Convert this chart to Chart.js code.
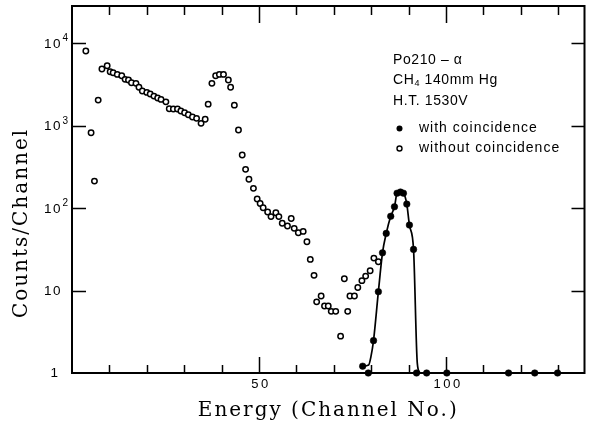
<!DOCTYPE html>
<html><head><meta charset="utf-8">
<script src="https://cdn.jsdelivr.net/npm/chart.js@4"></script>
<style>html,body{margin:0;padding:0;background:#fff;overflow:hidden}canvas{display:block}</style>
</head><body>
<canvas id="c" width="590" height="431"></canvas>
<script>
// Spectrum without coincidence (open circles)
const openChannels = [3.7,5.1,6.0,7.0,8.0,9.4,10.2,11.0,12.1,13.3,14.2,15.1,15.9,17.1,17.9,18.8,20.0,20.9,21.9,22.9,23.8,25.1,26.0,27.1,28.2,29.1,30.1,31.1,32.2,33.3,34.5,35.6,36.4,37.4,38.4,39.4,40.5,41.8,42.4,43.4,44.5,45.5,46.4,47.3,48.5,49.5,50.3,51.1,52.3,53.2,54.5,55.3,56.2,57.6,58.6,59.4,60.5,61.8,62.8,63.7,64.7,65.4,66.6,67.5,68.5,69.3,70.5,71.8,72.8,73.7,74.3,75.5,76.4,77.5,78.5,79.7,80.7,81.9];
const openCounts = [8070,822,213,2050,4880,5350,4520,4400,4200,4040,3660,3590,3330,3270,2930,2640,2540,2430,2290,2170,2090,1950,1610,1600,1600,1510,1440,1360,1280,1230,1070,1200,1830,3270,4040,4200,4200,3590,2930,1780,887,441,296,224,174,129,114,101,90,79,88,79,65.5,60.7,75,56.9,50.3,52.3,39.1,23.9,15.3,7.3,8.6,6.5,6.5,5.6,5.6,2.8,13.9,5.6,8.6,8.6,10.9,13.2,15.0,17.4,24.8,22.4];

// Spectrum with coincidence (filled circles)
const coinChannels = [77.7,79.2,80.6,81.9,83.0,84.0,85.2,86.2,86.9,87.8,88.6,89.5,90.2,91.3,92.1,94.8,100.2,116.7,123.7,129.8];
const coinCounts = [1.21,1,2.47,9.7,28.7,49.4,79.7,104,152,157,152,112,62.4,31.6,1,1,1,1,1,1];

// Smooth curve through the coincidence peak
const curveChannels = [77.7,79.3,79.9,80.6,81.9,83.0,84.0,85.2,86.2,86.9,87.8,88.6,89.5,90.2,91.3,92.3,93.0];
const curveCounts = [1.21,1.25,1.57,2.47,9.7,28.7,49.4,79.7,104,152,157,152,112,62.4,31.6,1.32,1.0];

// Axes
const xTicks = [10,20,30,40,50,60,70,80,90,100,110,120,130];
const xLabelTicks = [50,100];
const yTicks = [1,10,100,1000,10000];
const yTickBase = ['1','10','10','10','10'];
const yTickExp = ['','','2','3','4'];
const xTitle = 'Energy (Channel No.)';
const yTitle = 'Counts/Channel';

// Annotation block
const noteLine1 = 'Po210 – α';
const noteGas = ['CH','4',' 140mm Hg'];
const noteLine3 = 'H.T. 1530V';
const seriesNames = ['with coincidence','without coincidence'];

const toPoints = (xs, ys) => xs.map((x, i) => ({x, y: ys[i]}));

const SANS = '"Liberation Sans", Arial, sans-serif';
const SERIF = '"DejaVu Serif", serif';

const decor = {
  id: 'decor',
  beforeDatasetsDraw(chart) {
    const ctx = chart.ctx, a = chart.chartArea;
    const xs = chart.scales.x, ys = chart.scales.y;
    ctx.save();
    ctx.strokeStyle = '#000';
    ctx.lineWidth = 1.5;
    ctx.beginPath();
    xTicks.forEach(v => {
      const px = Math.round(xs.getPixelForValue(v)) + 0.5;
      const major = xLabelTicks.includes(v);
      ctx.moveTo(px, a.bottom); ctx.lineTo(px, a.bottom - (major ? 16 : 8));
      ctx.moveTo(px, a.top); ctx.lineTo(px, a.top + (major ? 17 : 9));
    });
    yTicks.slice(1).forEach(v => {
      const py = Math.round(ys.getPixelForValue(v)) + 0.5;
      ctx.moveTo(a.left, py); ctx.lineTo(a.left + 14, py);
      ctx.moveTo(a.right, py); ctx.lineTo(a.right - 13, py);
    });
    ctx.stroke();
    ctx.lineWidth = 2;
    ctx.strokeRect(a.left, a.top, a.right - a.left, a.bottom - a.top);
    ctx.restore();
  },
  afterDraw(chart) {
    const ctx = chart.ctx, a = chart.chartArea;
    const xs = chart.scales.x, ys = chart.scales.y;
    ctx.save();
    ctx.fillStyle = '#000';
    ctx.textBaseline = 'middle';

    // y tick labels
    yTicks.forEach((v, i) => {
      const py = ys.getPixelForValue(v);
      ctx.font = '13.5px ' + SANS;
      ctx.letterSpacing = '1.5px';
      if (yTickBase[i] === '1') {
        ctx.textAlign = 'center';
        ctx.fillText('1', 55, py);
      } else {
        ctx.textAlign = 'left';
        ctx.fillText(yTickBase[i], 44, py + 1);
        const w = ctx.measureText(yTickBase[i]).width;
        if (yTickExp[i]) {
          ctx.font = '10px ' + SANS;
          ctx.letterSpacing = '0px';
          ctx.fillText(yTickExp[i], 44 + w + 0.5, py - 5);
        }
      }
    });

    // x tick labels
    ctx.font = '13px ' + SANS;
    ctx.letterSpacing = '2.5px';
    ctx.textAlign = 'center';
    xLabelTicks.forEach(v => {
      ctx.fillText(String(v), xs.getPixelForValue(v) + 2, 384);
    });

    // axis titles
    ctx.font = '20px ' + SERIF;
    ctx.letterSpacing = '2px';
    ctx.fillText(xTitle, (a.left + a.right) / 2, 411);
    ctx.save();
    ctx.translate(22, 223);
    ctx.rotate(-Math.PI / 2);
    ctx.fillText(yTitle, 0, 0);
    ctx.restore();

    // annotation block
    ctx.textAlign = 'left';
    ctx.font = '14px ' + SANS;
    ctx.letterSpacing = '0.6px';
    ctx.fillText(noteLine1, 393, 60);
    ctx.fillText(noteGas[0], 393, 80);
    let gx = 393 + ctx.measureText(noteGas[0]).width;
    ctx.font = '9px ' + SANS;
    ctx.fillText(noteGas[1], gx, 84);
    gx += ctx.measureText(noteGas[1]).width;
    ctx.font = '14px ' + SANS;
    ctx.fillText(noteGas[2], gx, 80);
    ctx.fillText(noteLine3, 393, 101);
    ctx.letterSpacing = '1px';
    ctx.fillText(seriesNames[0], 419, 128);
    ctx.fillText(seriesNames[1], 419, 148);
    ctx.letterSpacing = '0px';

    ctx.beginPath();
    ctx.arc(399.5, 128.5, 3, 0, Math.PI * 2);
    ctx.fill();
    ctx.beginPath();
    ctx.lineWidth = 1.4;
    ctx.strokeStyle = '#000';
    ctx.arc(399.5, 148.5, 2.5, 0, Math.PI * 2);
    ctx.stroke();
    ctx.restore();
  }
};

new Chart(document.getElementById('c'), {
  type: 'scatter',
  data: {
    datasets: [
      {
        type: 'line',
        data: toPoints(curveChannels, curveCounts),
        borderColor: '#000',
        borderWidth: 1.7,
        pointRadius: 0,
        cubicInterpolationMode: 'monotone',
        fill: false,
        clip: false
      },
      {
        data: toPoints(coinChannels, coinCounts),
        pointRadius: 3.3,
        pointBackgroundColor: '#000',
        pointBorderColor: '#000',
        pointBorderWidth: 0.5,
        clip: false
      },
      {
        data: toPoints(openChannels, openCounts),
        pointRadius: 2.7,
        pointBackgroundColor: '#fff',
        pointBorderColor: '#000',
        pointBorderWidth: 1.5,
        clip: false
      }
    ]
  },
  options: {
    responsive: false,
    animation: false,
    devicePixelRatio: 1,
    layout: { padding: { left: 72, right: 5, top: 6, bottom: 58 } },
    plugins: { legend: { display: false }, tooltip: { enabled: false } },
    scales: {
      x: { type: 'linear', min: 0, max: 137, display: false },
      y: { type: 'logarithmic', min: 1, max: 28400, display: false }
    }
  },
  plugins: [decor]
});
</script>
</body></html>
